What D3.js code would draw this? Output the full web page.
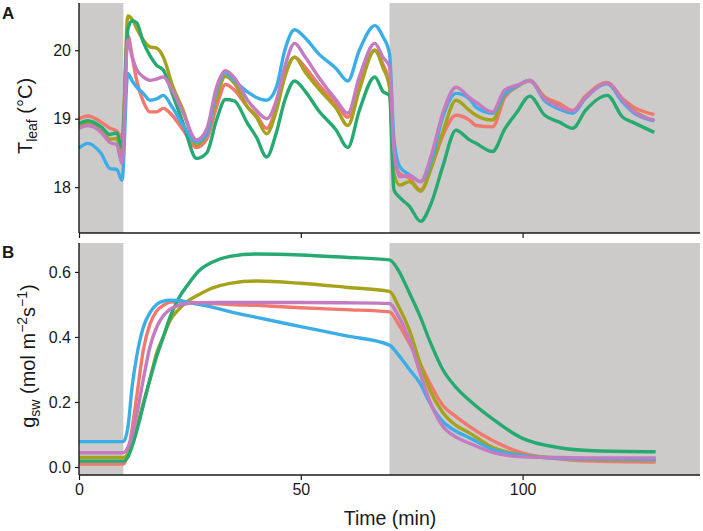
<!DOCTYPE html>
<html>
<head>
<meta charset="utf-8">
<script src="https://cdn.jsdelivr.net/npm/d3@7"></script>
<style>
html,body{margin:0;padding:0;background:#fff;}
svg text{font-family:"Liberation Sans",Arial,Helvetica,sans-serif;fill:#1a1a1a;}
</style>
</head>
<body>
<svg id="chart" width="703" height="531"></svg>
<script>
// ---------- DATA ----------
const seriesNames = ["red", "olive", "green", "blue", "pink"];
const seriesColors = ["#F0786E", "#A6A21C", "#27AA72", "#3BAEE8", "#C47BC0"];
const darkPeriods = [[0, 10], [70, 140]];
const xTicks = [0, 50, 100];
const tleafTicks = [18, 19, 20];
const gswTicks = [0.0, 0.2, 0.4, 0.6];

// Panel A: leaf temperature (°C)
const tleafTime = [0, 2, 5, 7, 8.5, 9.7, 11, 12, 13, 14.5, 16, 17.5, 19, 21, 23.5, 26.5, 28.8, 31, 33, 35, 38, 40, 42.3, 44.5, 46.4, 48.6, 51, 54, 58, 60.6, 63.2, 66.7, 68.5, 70, 71, 72.3, 74.5, 77, 79.5, 82, 85, 88, 89.5, 93.2, 96, 98.8, 101.6, 105, 108.3, 111.3, 114.2, 119.1, 122.6, 124.8, 129.7];
const tleafRed   = [19.00, 19.04, 18.95, 18.86, 18.82, 18.73, 20.22, 19.90, 19.56, 19.25, 19.10, 19.10, 19.15, 19.05, 18.83, 18.58, 18.70, 19.17, 19.50, 19.42, 19.17, 19.05, 18.86, 19.17, 19.65, 19.90, 19.75, 19.50, 19.22, 19.02, 19.50, 20.00, 19.80, 19.50, 18.39, 18.20, 18.13, 17.96, 18.30, 18.75, 19.05, 18.98, 18.90, 18.88, 19.31, 19.47, 19.55, 19.32, 19.22, 19.12, 19.33, 19.53, 19.29, 19.18, 19.06];
const tleafOlive = [18.90, 18.93, 18.85, 18.70, 18.71, 18.47, 20.50, 20.45, 20.32, 20.15, 20.05, 20.03, 19.90, 19.50, 19.12, 18.62, 18.78, 19.30, 19.62, 19.52, 19.17, 19.02, 18.78, 19.12, 19.61, 19.90, 19.68, 19.44, 19.15, 18.90, 19.42, 20.00, 19.75, 19.46, 18.20, 18.03, 18.08, 17.94, 18.30, 18.80, 19.27, 19.12, 19.05, 18.98, 19.35, 19.47, 19.56, 19.30, 19.17, 19.10, 19.31, 19.52, 19.27, 19.13, 18.97];
const tleafGreen = [18.93, 18.97, 18.88, 18.77, 18.79, 18.58, 20.30, 20.43, 20.40, 20.12, 19.92, 19.78, 19.71, 19.37, 18.93, 18.42, 18.50, 18.98, 19.28, 19.26, 18.93, 18.73, 18.44, 18.80, 19.27, 19.55, 19.40, 19.12, 18.83, 18.58, 19.12, 19.61, 19.40, 19.34, 17.96, 17.85, 17.72, 17.50, 17.78, 18.30, 18.83, 18.69, 18.64, 18.52, 18.85, 19.10, 19.33, 19.05, 18.95, 18.86, 19.12, 19.34, 19.02, 18.95, 18.80];
const tleafBlue  = [18.57, 18.64, 18.49, 18.27, 18.26, 18.10, 19.66, 19.55, 19.46, 19.37, 19.27, 19.29, 19.34, 19.17, 18.90, 18.66, 18.78, 19.42, 19.67, 19.56, 19.39, 19.31, 19.27, 19.46, 20.00, 20.30, 20.18, 19.95, 19.73, 19.55, 20.00, 20.36, 20.20, 19.95, 18.70, 18.30, 18.18, 18.08, 18.40, 19.02, 19.37, 19.29, 19.17, 19.08, 19.36, 19.48, 19.56, 19.26, 19.14, 19.08, 19.30, 19.51, 19.24, 19.10, 18.97];
const tleafPink  = [18.86, 18.90, 18.80, 18.65, 18.62, 18.35, 20.15, 19.90, 19.72, 19.61, 19.56, 19.58, 19.61, 19.42, 19.08, 18.69, 18.85, 19.46, 19.70, 19.60, 19.27, 19.12, 19.00, 19.27, 19.76, 20.10, 19.90, 19.61, 19.27, 19.08, 19.61, 20.10, 19.90, 19.76, 18.54, 18.15, 18.17, 18.08, 18.48, 19.08, 19.46, 19.31, 19.24, 19.10, 19.42, 19.49, 19.56, 19.29, 19.17, 19.11, 19.31, 19.52, 19.27, 19.12, 18.98];

// Panel B: stomatal conductance gsw (mol m-2 s-1)
const gswTime = [0, 10, 11, 12, 13, 14.5, 16, 17.5, 19, 20.5, 22.5, 24.5, 27, 30, 34, 40, 50, 60, 70, 72, 74.5, 77, 79, 82, 85, 88, 93, 100, 108, 116, 130];
const gswRed   = [0.009, 0.009, 0.040, 0.120, 0.215, 0.360, 0.440, 0.480, 0.497, 0.507, 0.508, 0.507, 0.505, 0.503, 0.500, 0.497, 0.490, 0.484, 0.477, 0.440, 0.380, 0.315, 0.260, 0.190, 0.155, 0.125, 0.083, 0.043, 0.025, 0.018, 0.015];
const gswOlive = [0.029, 0.029, 0.040, 0.075, 0.120, 0.197, 0.270, 0.350, 0.400, 0.450, 0.485, 0.510, 0.530, 0.550, 0.565, 0.572, 0.565, 0.553, 0.540, 0.495, 0.420, 0.315, 0.240, 0.168, 0.128, 0.105, 0.062, 0.037, 0.028, 0.024, 0.022];
const gswGreen = [0.018, 0.018, 0.030, 0.065, 0.110, 0.190, 0.270, 0.340, 0.400, 0.460, 0.520, 0.560, 0.603, 0.630, 0.648, 0.655, 0.652, 0.645, 0.637, 0.605, 0.535, 0.460, 0.390, 0.300, 0.245, 0.205, 0.150, 0.088, 0.060, 0.050, 0.047];
const gswBlue  = [0.078, 0.078, 0.120, 0.250, 0.340, 0.430, 0.475, 0.500, 0.510, 0.513, 0.512, 0.507, 0.500, 0.492, 0.478, 0.460, 0.432, 0.404, 0.375, 0.345, 0.300, 0.255, 0.200, 0.140, 0.110, 0.090, 0.055, 0.035, 0.027, 0.025, 0.024];
const gswPink  = [0.044, 0.044, 0.060, 0.100, 0.160, 0.270, 0.370, 0.430, 0.465, 0.485, 0.497, 0.503, 0.505, 0.506, 0.506, 0.506, 0.506, 0.505, 0.503, 0.465, 0.390, 0.285, 0.205, 0.125, 0.092, 0.073, 0.046, 0.031, 0.029, 0.028, 0.028];

const tleafSeries = [tleafRed, tleafOlive, tleafGreen, tleafBlue, tleafPink];
const gswSeries = [gswRed, gswOlive, gswGreen, gswBlue, gswPink];

// ---------- LAYOUT ----------
const svg = d3.select("#chart");
const x = d3.scaleLinear().domain([0, 140]).range([79, 700]);
const yA = d3.scaleLinear().domain([17.33, 20.69]).range([233, 3]);
const yB = d3.scaleLinear().domain([-0.0246, 0.689]).range([475, 243]);

function panel(y, time, series, yTicks, fmt, showXLabels) {
  const g = svg.append("g");
  const [y0, y1] = y.range();
  // dark periods
  g.selectAll("rect.dark").data(darkPeriods).enter().append("rect")
    .attr("x", d => x(d[0])).attr("width", d => x(d[1]) - x(d[0]))
    .attr("y", y1).attr("height", y0 - y1)
    .attr("fill", "#CCCBCA");
  // lines
  const line = d3.line().curve(d3.curveMonotoneX)
    .x((d, i) => x(time[i])).y(d => y(d));
  g.selectAll("path.s").data(series).enter().append("path")
    .attr("d", d => line(d))
    .attr("fill", "none")
    .attr("stroke", (d, i) => seriesColors[i])
    .attr("stroke-width", 3.4)
    .attr("stroke-linejoin", "round")
    .attr("stroke-linecap", "butt");
  // axes
  const ax = g.append("g").attr("transform", `translate(0,${y0})`)
    .call(d3.axisBottom(x).tickValues(xTicks).tickSize(5).tickPadding(4)
      .tickFormat(showXLabels ? d3.format("d") : ""));
  const ay = g.append("g").attr("transform", `translate(${x.range()[0]},0)`)
    .call(d3.axisLeft(y).tickValues(yTicks).tickSize(4).tickPadding(4).tickFormat(fmt));
  [ax, ay].forEach(a => {
    a.select(".domain").attr("stroke", "#1a1a1a").attr("stroke-width", 1.4);
    a.selectAll(".tick line").attr("stroke", "#1a1a1a").attr("stroke-width", 1.2);
    a.selectAll(".tick text").attr("font-size", 16).attr("fill", "#1a1a1a")
      .style("font-family", '"Liberation Sans",Arial,sans-serif');
  });
  ax.select(".domain").attr("d", `M${x.range()[0]},0H${x.range()[1]}`);
  ay.select(".domain").attr("d", `M0,${y0}V${y1}`);
}

panel(yA, tleafTime, tleafSeries, tleafTicks, d3.format("d"), false);
panel(yB, gswTime, gswSeries, gswTicks, d3.format(".1f"), true);

// panel labels
svg.append("text").attr("x", 2).attr("y", 19).attr("font-size", 17).attr("font-weight", "bold").text("A");
svg.append("text").attr("x", 2).attr("y", 258).attr("font-size", 17).attr("font-weight", "bold").text("B");

// x title
svg.append("text").attr("x", 390).attr("y", 525).attr("text-anchor", "middle")
  .attr("font-size", 19.5).text("Time (min)");

// y title A
const tA = svg.append("text").attr("transform", "translate(32,116) rotate(-90)")
  .attr("text-anchor", "middle").attr("font-size", 20);
tA.append("tspan").text("T");
tA.append("tspan").attr("font-size", 14).attr("dy", 5).text("leaf");
tA.append("tspan").attr("dy", -5).text(" (°C)");

// y title B
const tB = svg.append("text").attr("transform", "translate(35,356) rotate(-90)")
  .attr("text-anchor", "middle").attr("font-size", 20);
tB.append("tspan").text("g");
tB.append("tspan").attr("font-size", 14).attr("dy", 5).text("sw");
tB.append("tspan").attr("dy", -5).text(" (mol m");
tB.append("tspan").attr("font-size", 14).attr("dy", -8).text("−2");
tB.append("tspan").attr("dy", 8).text("s");
tB.append("tspan").attr("font-size", 14).attr("dy", -8).text("−1");
tB.append("tspan").attr("dy", 8).text(")");
</script>
</body>
</html>
